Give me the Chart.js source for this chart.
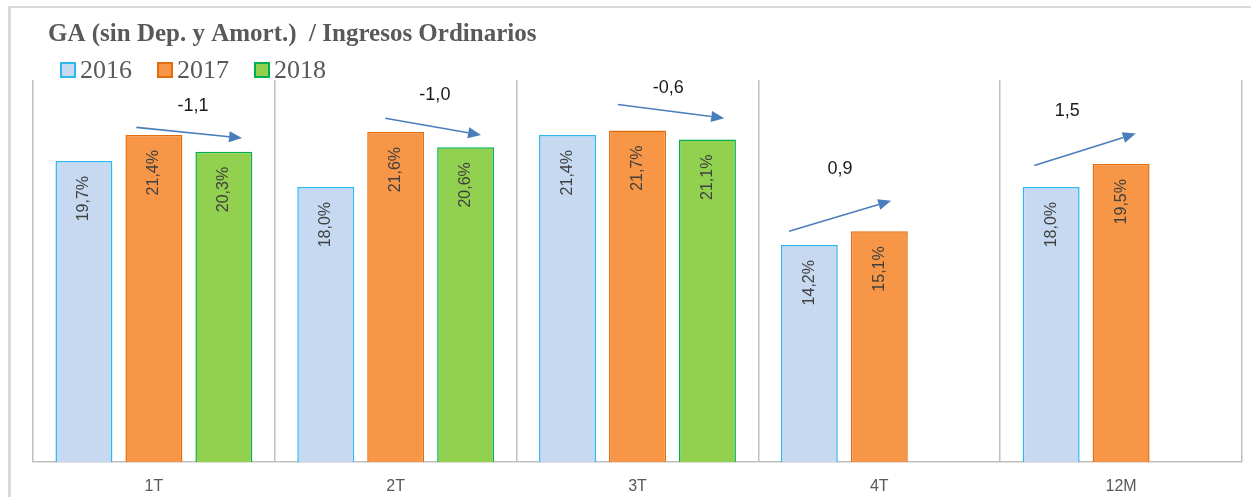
<!DOCTYPE html>
<html>
<head>
<meta charset="utf-8">
<script src="https://cdn.jsdelivr.net/npm/chart.js@4.4.0/dist/chart.umd.min.js"></script>
<style>
  html, body { margin: 0; padding: 0; background: #fff; }
  #wrap { width: 1251px; height: 497px; }
</style>
</head>
<body>
<div id="wrap"><canvas id="chart" width="1251" height="497"></canvas></div>
<script>
// data
const categories = ["1T", "2T", "3T", "4T", "12M"];
const years = ["2016", "2017", "2018"];
const values2016 = [19.7, 18.0, 21.4, 14.2, 18.0];
const values2017 = [21.4, 21.6, 21.7, 15.1, 19.5];
const values2018 = [20.3, 20.6, 21.1, null, null];

const titleText = "GA (sin Dep. y Amort.)  / Ingresos Ordinarios";

function fmt(v) {
  return v.toFixed(1).replace(".", ",");
}

// change between the last two years shown in each group
function deltaFor(j) {
  const seq = [values2016[j], values2017[j], values2018[j]].filter(v => v !== null);
  return seq[seq.length - 1] - seq[seq.length - 2];
}

// frame, title and legend
const headerPlugin = {
  id: "header",
  beforeDraw(chart) {
    const ctx = chart.ctx;
    ctx.save();
    ctx.fillStyle = "#fff";
    ctx.fillRect(0, 0, chart.width, chart.height);
    ctx.fillStyle = "#D9D9D9";
    ctx.fillRect(8, 6, 3, chart.height - 6);
    ctx.fillRect(8, 6, chart.width - 8, 2);
    ctx.restore();
  },
  afterDraw(chart) {
    const ctx = chart.ctx;
    ctx.save();
    ctx.fillStyle = "#595959";
    ctx.font = "bold 25px 'Liberation Serif'";
    ctx.textBaseline = "alphabetic";
    ctx.textAlign = "left";
    ctx.fillText(titleText, 48, 41);

    ctx.font = "26px 'Liberation Serif'";
    let x = 61;
    chart.data.datasets.forEach(ds => {
      ctx.fillStyle = ds.backgroundColor;
      ctx.fillRect(x, 63, 14, 14);
      ctx.strokeStyle = ds.borderColor;
      ctx.lineWidth = 2;
      ctx.strokeRect(x, 63, 14, 14);
      ctx.fillStyle = "#595959";
      ctx.fillText(ds.label, x + 19, 78);
      x += 19 + ctx.measureText(ds.label).width + 26;
    });
    ctx.restore();
  }
};

// vertical value labels inside the bars
const barLabelPlugin = {
  id: "barLabels",
  afterDatasetsDraw(chart) {
    const ctx = chart.ctx;
    ctx.save();
    ctx.font = "16px 'Liberation Sans'";
    ctx.fillStyle = "#404040";
    ctx.textAlign = "right";
    ctx.textBaseline = "middle";
    chart.data.datasets.forEach((ds, i) => {
      chart.getDatasetMeta(i).data.forEach((bar, j) => {
        const v = ds.data[j];
        if (v === null) return;
        ctx.save();
        ctx.translate(bar.x, bar.y + 15);
        ctx.rotate(-Math.PI / 2);
        ctx.fillText(fmt(v) + "%", 0, 0);
        ctx.restore();
      });
    });
    ctx.restore();
  }
};

// trend arrows with the change in points
const trendPlugin = {
  id: "trend",
  afterDatasetsDraw(chart, args, opts) {
    const ctx = chart.ctx;
    const xs = chart.scales.x, ys = chart.scales.y;
    const m0 = chart.getDatasetMeta(0), m1 = chart.getDatasetMeta(1);
    ctx.save();
    opts.items.forEach((it, j) => {
      const cx = xs.getPixelForValue(j);
      const slot = m1.data[j].x - m0.data[j].x;
      const x0 = cx + it.x0 * slot, y0 = ys.getPixelForValue(it.y0);
      const x1 = cx + it.x1 * slot, y1 = ys.getPixelForValue(it.y1);
      const ang = Math.atan2(y1 - y0, x1 - x0);
      const head = 13, half = 5.5;
      const bx = x1 - head * Math.cos(ang), by = y1 - head * Math.sin(ang);
      ctx.strokeStyle = "#4A7EBB";
      ctx.fillStyle = "#4A7EBB";
      ctx.lineWidth = 1.6;
      ctx.beginPath();
      ctx.moveTo(x0, y0);
      ctx.lineTo(bx, by);
      ctx.stroke();
      ctx.beginPath();
      ctx.moveTo(x1, y1);
      ctx.lineTo(bx - half * Math.sin(ang), by + half * Math.cos(ang));
      ctx.lineTo(bx + half * Math.sin(ang), by - half * Math.cos(ang));
      ctx.closePath();
      ctx.fill();

      ctx.font = "18px 'Liberation Sans'";
      ctx.fillStyle = "#1A1A1A";
      ctx.textAlign = "center";
      ctx.textBaseline = "middle";
      ctx.fillText(fmt(deltaFor(j)), cx + it.tx * slot, ys.getPixelForValue(it.ty));
    });
    ctx.restore();
  }
};

const ctx = document.getElementById("chart").getContext("2d");
new Chart(ctx, {
  type: "bar",
  data: {
    labels: categories,
    datasets: [
      { label: years[0], data: values2016, backgroundColor: "#C6D9F1", borderColor: "#2DB7F0", borderWidth: 1.5 },
      { label: years[1], data: values2017, backgroundColor: "#F79646", borderColor: "#E46C0A", borderWidth: 1.5 },
      { label: years[2], data: values2018, backgroundColor: "#92D050", borderColor: "#00B050", borderWidth: 1.5 }
    ]
  },
  options: {
    responsive: false,
    animation: false,
    categoryPercentage: 0.868,
    barPercentage: 0.814,
    layout: { padding: { left: 33, right: 9, top: 80, bottom: 0 } },
    scales: {
      x: {
        afterFit(scale) { scale.height = 35; },
        grid: { offset: true, color: "#BFBFBF", lineWidth: 1.5, drawTicks: false },
        border: { display: true, color: "#BFBFBF", width: 1.5 },
        ticks: { color: "#595959", padding: 15, font: { family: "'Liberation Sans'", size: 16 } }
      },
      y: { display: false, min: 0, max: 25 }
    },
    plugins: {
      legend: { display: false },
      title: { display: false },
      tooltip: { enabled: false },
      trend: {
        items: [
          { x0: -0.25, y0: 21.9, x1: 1.26, y1: 21.2, tx: 0.56, ty: 23.3 },
          { x0: -0.15, y0: 22.5, x1: 1.22, y1: 21.4, tx: 0.56, ty: 24.0 },
          { x0: -0.28, y0: 23.4, x1: 1.24, y1: 22.5, tx: 0.44, ty: 24.5 },
          { x0: -1.29, y0: 15.1, x1: 0.17, y1: 17.1, tx: -0.56, ty: 19.2 },
          { x0: -1.24, y0: 19.4, x1: 0.21, y1: 21.5, tx: -0.77, ty: 23.0 }
        ]
      }
    }
  },
  plugins: [headerPlugin, barLabelPlugin, trendPlugin]
});
</script>
</body>
</html>
